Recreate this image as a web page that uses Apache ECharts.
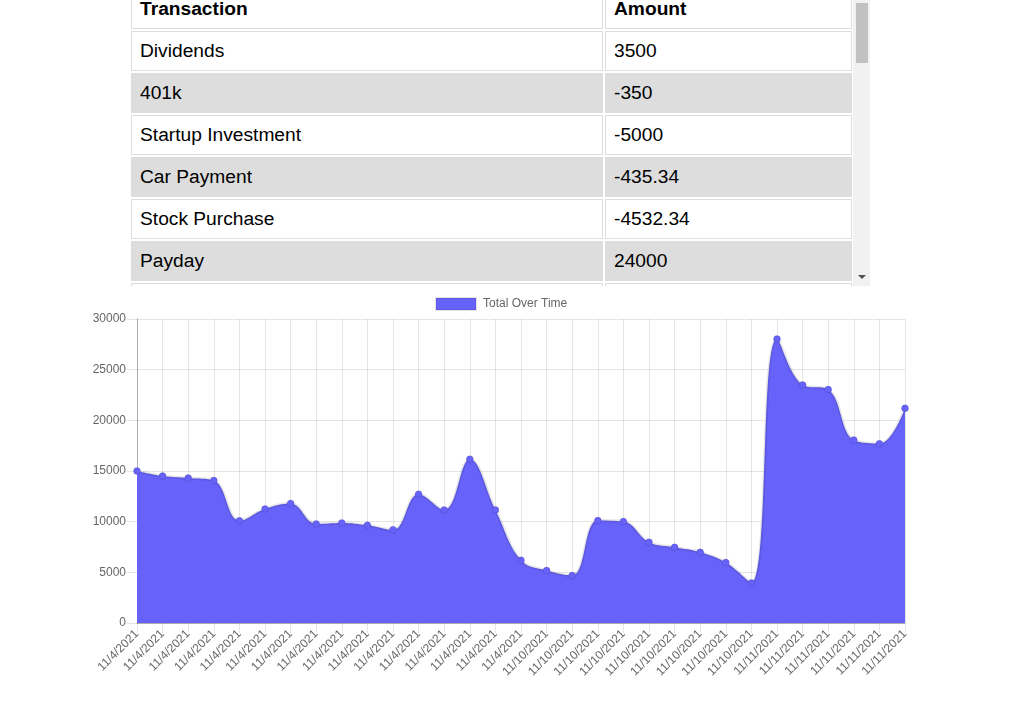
<!DOCTYPE html>
<html>
<head>
<meta charset="utf-8">
<script src="https://cdn.jsdelivr.net/npm/echarts@6/dist/echarts.min.js"></script>
<style>
  html, body { margin:0; padding:0; width:1010px; height:705px; overflow:hidden; background:#fff; }
  #chart { position:absolute; left:0; top:0; width:1010px; height:705px; }
  #tableWrap { position:absolute; left:129px; top:-13px; width:725px; height:299px; overflow:hidden; z-index:2; background:#fff; }
  #sbTrack { position:absolute; left:853px; top:-13px; width:17px; height:299px; background:#f1f1f1; z-index:3; }
  #sbThumb { position:absolute; left:3px; top:16px; width:12px; height:60px; background:#c1c1c1; }
  #sbDown { position:absolute; left:5px; bottom:7px; width:0; height:0; border-left:4px solid transparent; border-right:4px solid transparent; border-top:4px solid #505050; }
  table { border-collapse:separate; border-spacing:2px; table-layout:fixed; width:725px; font-family:"Liberation Sans", Arial, sans-serif; font-size:19.2px; color:#000; }
  td, th { height:38px; border:1px solid #dddddd; padding:0 0 0 8px; text-align:left; vertical-align:middle; white-space:nowrap; }
  th { font-weight:bold; }
  tr.odd td { background:#dddddd; }
</style>
</head>
<body>
<div id="chart"></div>
<div id="tableWrap">
  <table id="tbl">
    <colgroup><col style="width:472px"><col style="width:247px"></colgroup>
  </table>
</div>
<div id="sbTrack"><div id="sbThumb"></div><div id="sbDown"></div></div>
<script>
// ---- table data (visible rows) ----
var tableHeaders = ["Transaction", "Amount"];
var transactionNames = ["Dividends", "401k", "Startup Investment", "Car Payment", "Stock Purchase", "Payday", ""];
var transactionAmounts = ["3500", "-350", "-5000", "-435.34", "-4532.34", "24000", ""];

// ---- chart data ----
var seriesName = "Total Over Time";
var dateLabels = [
  "11/4/2021","11/4/2021","11/4/2021","11/4/2021","11/4/2021","11/4/2021","11/4/2021","11/4/2021",
  "11/4/2021","11/4/2021","11/4/2021","11/4/2021","11/4/2021","11/4/2021","11/4/2021","11/4/2021",
  "11/10/2021","11/10/2021","11/10/2021","11/10/2021","11/10/2021","11/10/2021","11/10/2021","11/10/2021","11/10/2021",
  "11/11/2021","11/11/2021","11/11/2021","11/11/2021","11/11/2021","11/11/2021"
];
var totals = [
  15000, 14500, 14300, 14060, 10100, 11260, 11790, 9780, 9880, 9650, 9190, 12710, 11160, 16170, 11160, 6190,
  5170, 4680, 10110, 10010, 7970, 7470, 6980, 5960, 3950,
  28020, 23490, 23050, 18050, 17700, 21200
];
var yTicks = { min: 0, max: 30000, interval: 5000 };

// build table
var tbl = document.getElementById('tbl');
var hr = document.createElement('tr');
tableHeaders.forEach(function (h) { var th = document.createElement('th'); th.textContent = h; hr.appendChild(th); });
tbl.appendChild(hr);
for (var i = 0; i < transactionNames.length; i++) {
  var tr = document.createElement('tr');
  if (i % 2 === 1) tr.className = 'odd';
  var a = document.createElement('td'); a.textContent = transactionNames[i];
  var b = document.createElement('td'); b.textContent = transactionAmounts[i];
  tr.appendChild(a); tr.appendChild(b); tbl.appendChild(tr);
}

var fillColor = '#6762f9';
var gridColor = 'rgba(0,0,0,0.1)';
var font = '"Liberation Sans", Arial, Helvetica, sans-serif';
var chart = echarts.init(document.getElementById('chart'), null, { renderer: 'canvas' });
chart.setOption({
  animation: false,
  textStyle: { fontFamily: font },
  legend: {
    data: [seriesName],
    left: 435, top: 297, padding: 0,
    icon: 'rect',
    itemWidth: 40, itemHeight: 12, itemGap: 10,
    textStyle: { color: '#666', fontSize: 12, fontFamily: font, padding: [0, 0, 0, 2] },
    itemStyle: { color: fillColor, borderColor: 'rgba(0,0,0,0.1)', borderWidth: 2 }
  },
  grid: { left: 137, right: 105, top: 319, bottom: 82, containLabel: false },
  xAxis: {
    type: 'category',
    data: dateLabels,
    boundaryGap: false,
    axisLine: { show: true, lineStyle: { color: 'rgba(0,0,0,0.25)' } },
    axisTick: { show: true, length: 10, interval: 0, lineStyle: { color: gridColor } },
    splitLine: { show: true, interval: 0, lineStyle: { color: gridColor } },
    axisLabel: { interval: 0, rotate: 45, margin: 9, color: '#666', fontSize: 12, fontFamily: font }
  },
  yAxis: {
    type: 'value',
    min: yTicks.min, max: yTicks.max, interval: yTicks.interval,
    axisLine: { show: true, lineStyle: { color: 'rgba(0,0,0,0.25)' } },
    axisTick: { show: true, length: 10, lineStyle: { color: gridColor } },
    splitLine: { show: true, lineStyle: { color: gridColor } },
    axisLabel: { margin: 11, color: '#666', fontSize: 12, fontFamily: font, formatter: function (v) { return String(v); } }
  },
  series: [{
    name: seriesName,
    type: 'line',
    data: totals,
    smooth: 0.4,
    symbol: 'circle',
    symbolSize: 7,
    showSymbol: true,
    showAllSymbol: true,
    lineStyle: { color: 'rgba(0,0,0,0.1)', width: 3 },
    itemStyle: { color: fillColor, borderColor: 'rgba(0,0,0,0.1)', borderWidth: 1 },
    areaStyle: { color: fillColor, opacity: 1 }
  }]
});
</script>
</body>
</html>
